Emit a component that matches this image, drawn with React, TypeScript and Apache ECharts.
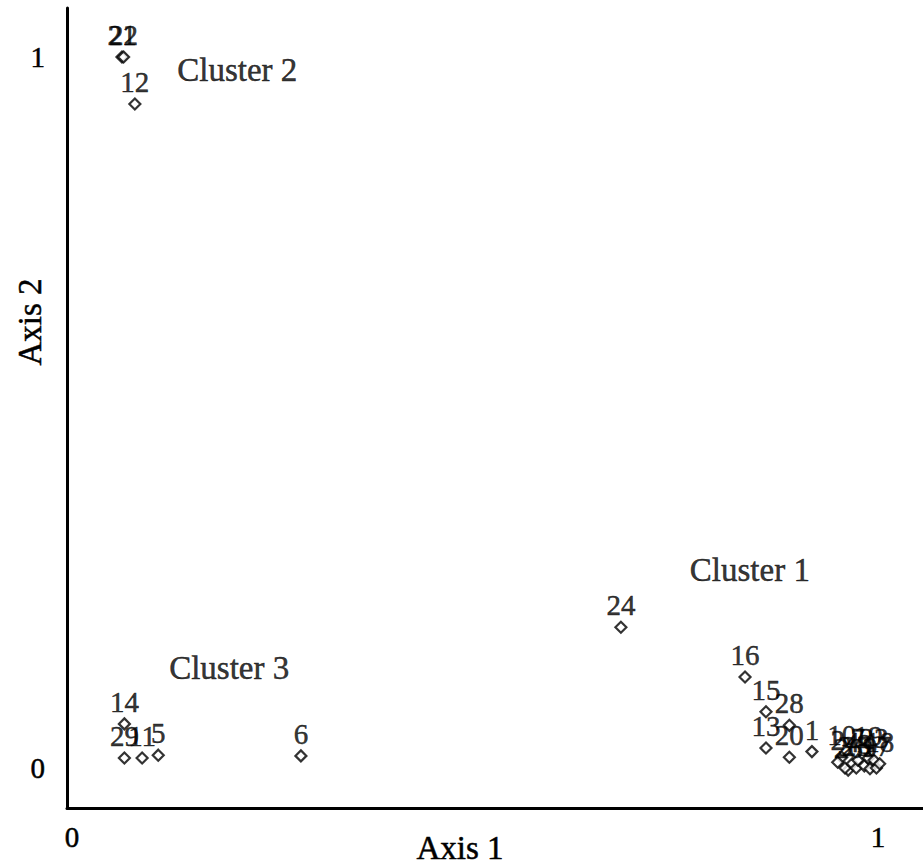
import React, { useEffect, useRef } from "react";
import * as echarts from "echarts";

const pointLabels = [
  "21", "22", "12",
  "14", "29", "11", "5", "6",
  "24", "16", "15", "28", "13", "20", "1",
  "10", "2", "26", "3", "4", "25", "7", "8", "19", "9", "23", "17", "18",
];
const axis1Values = [
  0.062, 0.064, 0.078,
  0.065, 0.065, 0.087, 0.107, 0.284,
  0.681, 0.835, 0.861, 0.890, 0.861, 0.890, 0.918,
  0.955, 0.950, 0.963, 0.959, 0.968, 0.973, 0.975, 0.983, 0.988, 0.990, 0.995, 0.998, 1.002,
];
const axis2Values = [
  1.0, 1.0, 0.934,
  0.062, 0.014, 0.014, 0.018, 0.017,
  0.198, 0.128, 0.079, 0.060, 0.028, 0.015, 0.023,
  0.015, 0.008, -0.003, 0.0, 0.006, 0.0, 0.011, 0.003, 0.014, -0.001, 0.011, 0.0, 0.006,
];
const clusterNames = ["Cluster 2", "Cluster 3", "Cluster 1"];
const clusterX = [0.205, 0.195, 0.841];
const clusterY = [0.982, 0.141, 0.278];
const tickValues = [0, 1];

const FONT = "'Liberation Serif', 'DejaVu Serif', 'Times New Roman', serif";

export default function App() {
  const ref = useRef<HTMLDivElement>(null);
  useEffect(() => {
    if (!ref.current) return;
    const chart = echarts.init(ref.current, null, { renderer: "svg" });
    const heavy = { textBorderColor: "#000", textBorderWidth: 0.5 };
    chart.setOption({
      animation: false,
      backgroundColor: "#ffffff",
      grid: { left: 67, top: 8, right: 0, bottom: 57, containLabel: false },
      xAxis: {
        type: "value",
        min: -0.0062,
        max: 1.0558,
        splitLine: { show: false },
        axisLine: { show: true, onZero: false, lineStyle: { color: "#000", width: 3 } },
        axisTick: { show: false },
        axisLabel: {
          customValues: tickValues,
          margin: 14,
          color: "#000",
          fontFamily: FONT,
          fontSize: 29,
          ...heavy,
        },
      },
      yAxis: {
        type: "value",
        min: -0.0563,
        max: 1.069,
        splitLine: { show: false },
        axisLine: { show: true, onZero: false, lineStyle: { color: "#000", width: 3 } },
        axisTick: { show: false },
        axisLabel: {
          customValues: tickValues,
          margin: 22,
          color: "#000",
          fontFamily: FONT,
          fontSize: 29,
          ...heavy,
        },
      },
      graphic: [
        {
          type: "text",
          x: 460,
          y: 848,
          style: {
            text: "Axis 1",
            fill: "#000",
            stroke: "#000",
            lineWidth: 0.5,
            font: `33px ${FONT}`,
            align: "center",
            verticalAlign: "middle",
          },
        },
        {
          type: "text",
          x: 30,
          y: 322,
          rotation: Math.PI / 2,
          style: {
            text: "Axis 2",
            fill: "#000",
            stroke: "#000",
            lineWidth: 0.5,
            font: `33px ${FONT}`,
            align: "center",
            verticalAlign: "middle",
          },
        },
      ],
      series: [
        {
          type: "scatter",
          name: "points",
          symbol: "diamond",
          symbolSize: 11,
          itemStyle: { color: "#fff", borderColor: "#000", borderWidth: 2.2 },
          label: {
            show: true,
            position: "top",
            distance: 1,
            color: "#000",
            fontFamily: FONT,
            fontSize: 29,
            ...heavy,
            formatter: (p: any) => p.data[2],
          },
          data: pointLabels.map((l, i) => [axis1Values[i], axis2Values[i], l]),
          z: 3,
        },
        {
          type: "scatter",
          name: "clusters",
          symbolSize: 0,
          itemStyle: { color: "transparent" },
          label: {
            show: true,
            position: "inside",
            color: "#000",
            fontFamily: FONT,
            fontSize: 33,
            ...heavy,
            formatter: (p: any) => p.data[2],
          },
          data: clusterNames.map((n, i) => [clusterX[i], clusterY[i], n]),
          z: 4,
        },
      ],
    });
    return () => chart.dispose();
  }, []);
  return (
    <div
      ref={ref}
      style={{ position: "fixed", left: 0, top: 0, width: 923, height: 865, background: "#fff" }}
    />
  );
}
